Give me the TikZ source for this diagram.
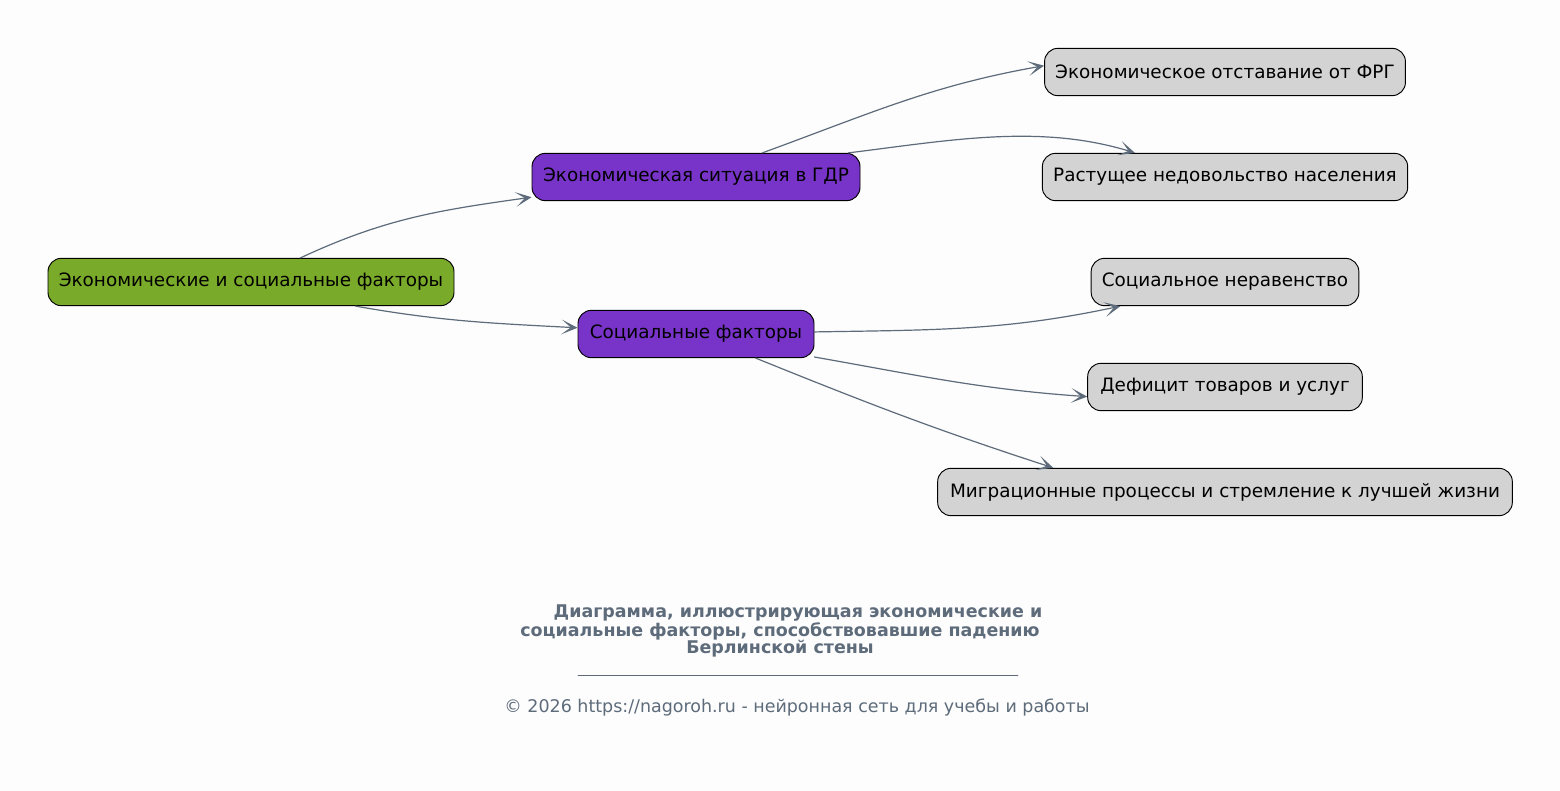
\documentclass[tikz,border=0pt]{standalone}
\usepackage{fontspec}
\setmainfont{DejaVu Sans}
\usetikzlibrary{arrows.meta}
\definecolor{rootgreen}{RGB}{122,170,42}
\definecolor{midpurple}{RGB}{120,52,200}
\definecolor{leafgray}{RGB}{211,211,211}
\definecolor{slate}{RGB}{93,107,122}
\definecolor{paper}{RGB}{253,253,253}
\tikzset{
  box/.style={draw=black, line width=0.7pt, rounded corners=10pt, minimum height=35.5pt, inner xsep=8pt, font=\fontsize{13.8}{16}\selectfont},
  rootbox/.style={box, fill=rootgreen},
  midbox/.style={box, fill=midpurple},
  leafbox/.style={box, fill=leafgray},
  link/.style={draw=slate, line width=0.9pt, -{Stealth[length=12pt, width=11pt, inset=7pt]}},
  caption/.style={text=slate, font=\bfseries\fontsize{13.1}{15}\selectfont},
}
\begin{document}
\begin{tikzpicture}[x=0.75pt, y=-0.75pt, line join=round, line cap=round]
\fill[paper] (0,0) rectangle (1560,791);
\useasboundingbox (0,0) rectangle (1560,791);
% nodes
\node[rootbox, minimum width=304.5pt] (root) at (251,282) {Экономические и социальные факторы};
\node[midbox, minimum width=246pt] (econ) at (696,177) {Экономическая ситуация в ГДР};
\node[midbox, minimum width=177pt] (soc) at (696,334) {Социальные факторы};
\node[leafbox, minimum width=270pt] (lag) at (1225,72) {Экономическое отставание от ФРГ};
\node[leafbox, minimum width=274pt] (discontent) at (1225,177) {Растущее недовольство населения};
\node[leafbox, minimum width=200pt] (inequality) at (1225,282) {Социальное неравенство};
\node[leafbox, minimum width=206pt] (shortage) at (1225,387) {Дефицит товаров и услуг};
\node[leafbox, minimum width=431pt] (migration) at (1225,492) {Миграционные процессы и стремление к лучшей жизни};
% connectors
\draw[link] (root.26) to[out=25, in=188] (econ.187);
\draw[link] (root.-13) to[out=-10, in=177] (soc.177);
\draw[link] (econ.20) to[out=20, in=190] (lag.178);
\draw[link] (econ.9) to[out=7, in=163, looseness=0.9] (discontent.165);
\draw[link] (soc.1) to[out=1, in=192] (inequality.193);
\draw[link] (soc.-11) to[out=-10, in=176] (shortage.184);
\draw[link] (soc.-22) to[out=-22, in=162] (migration.172);
% caption
\node[caption] (cap1) at (798,613) {Диаграмма, иллюстрирующая экономические и};
\node[caption] (cap2) at (780,631) {социальные факторы, способствовавшие падению};
\node[caption] (cap3) at (780,649) {Берлинской стены};
\coordinate (ruleA) at (578,675);
\coordinate (ruleB) at (1018,675);
\draw[slate, line width=0.6pt] (ruleA) -- (ruleB);
\node[text=slate, font=\fontsize{13.1}{15}\selectfont] (credit) at (797,708) {© 2026 https://nagoroh.ru - нейронная сеть для учебы и работы};
\end{tikzpicture}
\end{document}
